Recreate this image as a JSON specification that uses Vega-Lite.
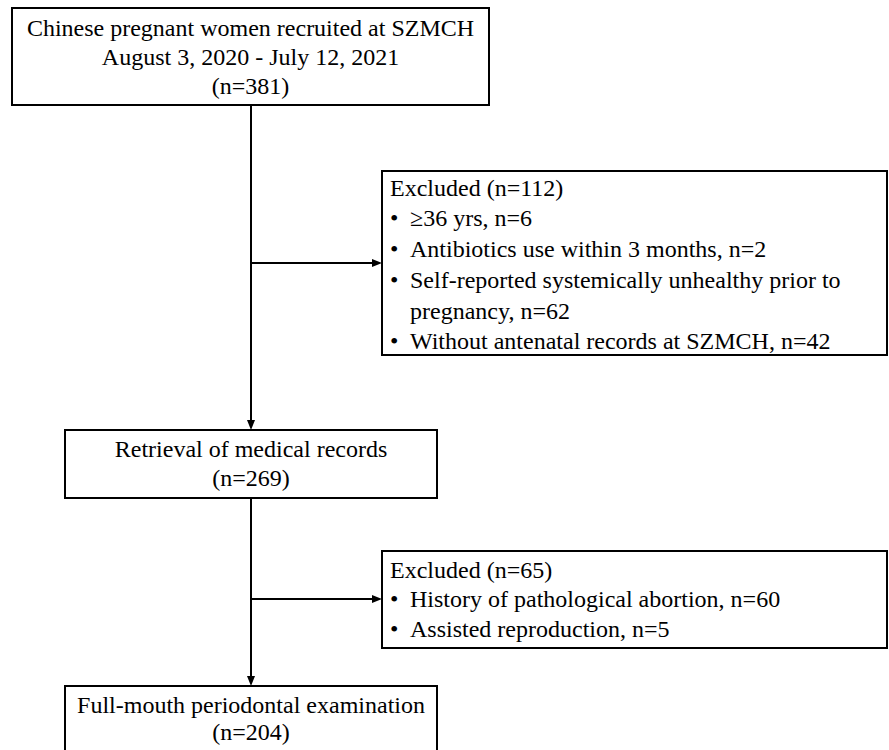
{
  "$schema": "https://vega.github.io/schema/vega-lite/v6.json",
  "autosize": {"type": "fit", "contains": "padding"},
  "width": 889,
  "height": 750,
  "padding": 0,
  "background": "white",
  "config": {"view": {"stroke": null}},
  "datasets": {
    "boxes": [
      {"box": "recruited", "x1": 12, "x2": 489, "y1": 8, "y2": 105},
      {"box": "excluded1", "x1": 382, "x2": 887, "y1": 171, "y2": 355},
      {"box": "retrieval", "x1": 65, "x2": 437, "y1": 430, "y2": 498},
      {"box": "excluded2", "x1": 382, "x2": 887, "y1": 551, "y2": 648},
      {"box": "examination", "x1": 65, "x2": 437, "y1": 686, "y2": 760}
    ],
    "lines": [
      {"x1": 251, "x2": 251, "y1": 105, "y2": 424},
      {"x1": 251, "x2": 251, "y1": 498, "y2": 680},
      {"x1": 251, "x2": 375, "y1": 263, "y2": 263},
      {"x1": 251, "x2": 375, "y1": 599, "y2": 599}
    ],
    "arrows": [
      {"x": 251, "y": 430, "dir": "down"},
      {"x": 251, "y": 686, "dir": "down"},
      {"x": 382, "y": 263, "dir": "right"},
      {"x": 382, "y": 599, "dir": "right"}
    ],
    "labels": [
      {"x": 250.5, "y": 36, "align": "center", "text": "Chinese pregnant women recruited at SZMCH"},
      {"x": 250.5, "y": 65, "align": "center", "text": "August 3, 2020 - July 12, 2021"},
      {"x": 250.5, "y": 94, "align": "center", "text": "(n=381)"},
      {"x": 390, "y": 196, "align": "left", "text": "Excluded (n=112)"},
      {"x": 390, "y": 226, "align": "left", "text": "•"},
      {"x": 410, "y": 226, "align": "left", "text": "≥36 yrs, n=6"},
      {"x": 390, "y": 257, "align": "left", "text": "•"},
      {"x": 410, "y": 257, "align": "left", "text": "Antibiotics use within 3 months, n=2"},
      {"x": 390, "y": 288, "align": "left", "text": "•"},
      {"x": 410, "y": 288, "align": "left", "text": "Self-reported systemically unhealthy prior to"},
      {"x": 410, "y": 319, "align": "left", "text": "pregnancy, n=62"},
      {"x": 390, "y": 349, "align": "left", "text": "•"},
      {"x": 410, "y": 349, "align": "left", "text": "Without antenatal records at SZMCH, n=42"},
      {"x": 251, "y": 457, "align": "center", "text": "Retrieval of medical records"},
      {"x": 251, "y": 486, "align": "center", "text": "(n=269)"},
      {"x": 390, "y": 578, "align": "left", "text": "Excluded (n=65)"},
      {"x": 390, "y": 607, "align": "left", "text": "•"},
      {"x": 410, "y": 607, "align": "left", "text": "History of pathological abortion, n=60"},
      {"x": 390, "y": 637, "align": "left", "text": "•"},
      {"x": 410, "y": 637, "align": "left", "text": "Assisted reproduction, n=5"},
      {"x": 251, "y": 713, "align": "center", "text": "Full-mouth periodontal examination"},
      {"x": 251, "y": 740, "align": "center", "text": "(n=204)"}
    ]
  },
  "layer": [
    {
      "data": {"name": "boxes"},
      "mark": {"type": "rect", "fill": "white", "stroke": "black", "strokeWidth": 2, "clip": true},
      "encoding": {
        "x": {"field": "x1", "type": "quantitative", "scale": {"domain": [0, 889], "nice": false, "zero": false}, "axis": null},
        "x2": {"field": "x2"},
        "y": {"field": "y1", "type": "quantitative", "scale": {"domain": [0, 750], "nice": false, "zero": false, "reverse": true}, "axis": null},
        "y2": {"field": "y2"}
      }
    },
    {
      "data": {"name": "lines"},
      "mark": {"type": "rule", "stroke": "black", "strokeWidth": 2},
      "encoding": {
        "x": {"field": "x1", "type": "quantitative"},
        "x2": {"field": "x2"},
        "y": {"field": "y1", "type": "quantitative"},
        "y2": {"field": "y2"}
      }
    },
    {
      "data": {"name": "arrows"},
      "transform": [{"filter": "datum.dir === 'down'"}],
      "mark": {"type": "point", "shape": "M0,0 L-0.4,-1 L0.4,-1 Z", "size": 400, "filled": true, "fill": "black", "opacity": 1, "strokeWidth": 0},
      "encoding": {
        "x": {"field": "x", "type": "quantitative"},
        "y": {"field": "y", "type": "quantitative"}
      }
    },
    {
      "data": {"name": "arrows"},
      "transform": [{"filter": "datum.dir === 'right'"}],
      "mark": {"type": "point", "shape": "M0,0 L-1,-0.4 L-1,0.4 Z", "size": 400, "filled": true, "fill": "black", "opacity": 1, "strokeWidth": 0},
      "encoding": {
        "x": {"field": "x", "type": "quantitative"},
        "y": {"field": "y", "type": "quantitative"}
      }
    },
    {
      "data": {"name": "labels"},
      "transform": [{"filter": "datum.align === 'center'"}],
      "mark": {"type": "text", "align": "center", "baseline": "alphabetic", "font": "Liberation Serif", "fontSize": 24, "color": "black"},
      "encoding": {
        "x": {"field": "x", "type": "quantitative"},
        "y": {"field": "y", "type": "quantitative"},
        "text": {"field": "text"}
      }
    },
    {
      "data": {"name": "labels"},
      "transform": [{"filter": "datum.align === 'left'"}],
      "mark": {"type": "text", "align": "left", "baseline": "alphabetic", "font": "Liberation Serif", "fontSize": 24, "color": "black"},
      "encoding": {
        "x": {"field": "x", "type": "quantitative"},
        "y": {"field": "y", "type": "quantitative"},
        "text": {"field": "text"}
      }
    }
  ]
}
